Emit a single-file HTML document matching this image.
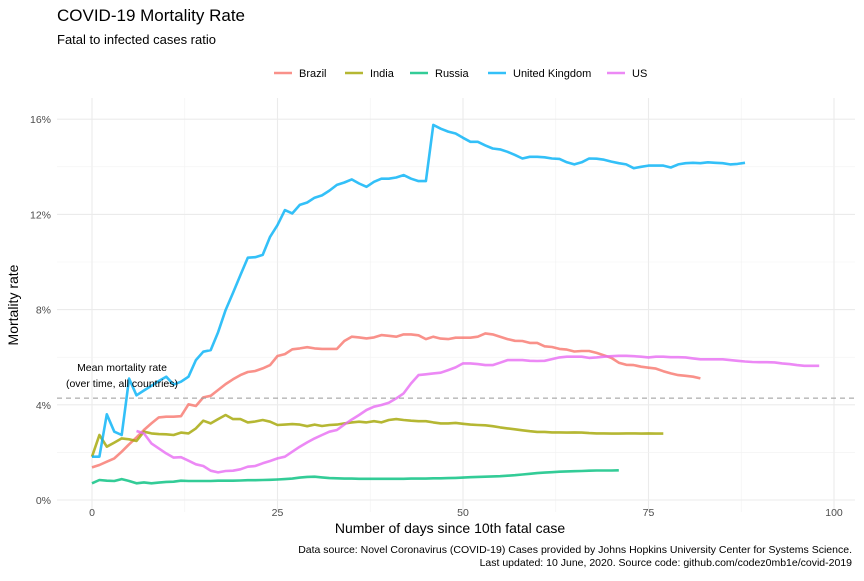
<!DOCTYPE html>
<html><head><meta charset="utf-8"><style>
body{margin:0;background:#fff;font-family:"Liberation Sans",sans-serif}
svg text{font-family:"Liberation Sans",sans-serif}
</style></head><body>
<svg id="c" width="864" height="576" xmlns="http://www.w3.org/2000/svg">
<text x="57" y="21" font-size="17" fill="#000">COVID-19 Mortality Rate</text>
<text x="57" y="44" font-size="13" fill="#000">Fatal to infected cases ratio</text>
<g id="grid"></g>
<g id="lines"></g>
<g id="legend"></g>
<text x="450" y="533" font-size="14" text-anchor="middle">Number of days since 10th fatal case</text>
<text transform="translate(18,305) rotate(-90)" font-size="14" text-anchor="middle">Mortality rate</text>
<text x="852" y="553" font-size="10.5" text-anchor="end">Data source: Novel Coronavirus (COVID-19) Cases provided by Johns Hopkins University Center for Systems Science.</text>
<text x="852" y="566" font-size="10.5" text-anchor="end">Last updated: 10 June, 2020. Source code: github.com/codez0mb1e/covid-2019</text>
</svg>
<script>
const xTicks=[0,25,50,75,100];
const yTicks=[0,4,8,12,16];
const meanRate=4.28;
const countries=["Brazil","India","Russia","United Kingdom","US"];
const colors=["#F8766D","#A3A500","#00BF7D","#00B0F6","#E76BF3"];
const startBrazil=0,startIndia=0,startRussia=0,startUK=0,startUS=6;
const brazil=[1.37,1.47,1.61,1.75,2.03,2.34,2.63,2.94,3.22,3.47,3.5,3.5,3.52,4.02,3.95,4.31,4.38,4.62,4.87,5.07,5.25,5.38,5.42,5.53,5.67,6.05,6.13,6.33,6.37,6.42,6.37,6.35,6.35,6.35,6.68,6.86,6.83,6.79,6.83,6.93,6.9,6.86,6.96,6.96,6.92,6.76,6.86,6.78,6.76,6.82,6.82,6.82,6.86,7.0,6.96,6.86,6.76,6.69,6.68,6.6,6.6,6.46,6.43,6.35,6.32,6.24,6.26,6.26,6.18,6.08,5.97,5.77,5.68,5.67,5.6,5.56,5.52,5.41,5.32,5.25,5.22,5.18,5.11];
const india=[1.82,2.73,2.24,2.41,2.59,2.55,2.48,2.87,2.8,2.77,2.76,2.73,2.83,2.8,3.01,3.33,3.22,3.4,3.57,3.4,3.4,3.26,3.3,3.36,3.29,3.15,3.17,3.19,3.17,3.1,3.17,3.11,3.15,3.17,3.22,3.26,3.29,3.26,3.31,3.26,3.36,3.4,3.36,3.33,3.31,3.31,3.26,3.22,3.22,3.24,3.2,3.17,3.15,3.14,3.1,3.05,3.01,2.97,2.93,2.89,2.86,2.86,2.84,2.84,2.83,2.84,2.83,2.81,2.8,2.8,2.79,2.79,2.8,2.8,2.79,2.8,2.79,2.79];
const russia=[0.7,0.84,0.81,0.8,0.88,0.8,0.7,0.74,0.7,0.73,0.76,0.77,0.81,0.8,0.8,0.8,0.8,0.81,0.81,0.81,0.82,0.83,0.83,0.84,0.85,0.86,0.88,0.9,0.94,0.97,0.98,0.95,0.92,0.91,0.9,0.9,0.89,0.89,0.89,0.89,0.89,0.89,0.89,0.9,0.9,0.9,0.91,0.91,0.92,0.93,0.94,0.96,0.97,0.98,0.99,1.0,1.02,1.04,1.07,1.1,1.13,1.15,1.17,1.19,1.2,1.21,1.22,1.23,1.24,1.24,1.24,1.25];
const uk=[1.82,1.82,3.6,2.87,2.73,5.1,4.4,4.6,4.8,5.0,5.18,4.85,4.97,5.18,5.88,6.23,6.3,7.05,7.98,8.7,9.45,10.18,10.2,10.3,11.06,11.55,12.18,12.04,12.4,12.5,12.7,12.8,13.0,13.24,13.34,13.47,13.3,13.16,13.37,13.5,13.5,13.55,13.65,13.5,13.4,13.4,15.76,15.6,15.48,15.4,15.22,15.05,15.05,14.9,14.77,14.73,14.63,14.5,14.35,14.42,14.42,14.4,14.35,14.33,14.19,14.1,14.19,14.35,14.34,14.3,14.22,14.15,14.1,13.94,14.0,14.05,14.05,14.05,13.97,14.1,14.15,14.17,14.15,14.19,14.17,14.15,14.1,14.12,14.17];
const us=[2.9,2.8,2.38,2.17,1.96,1.78,1.8,1.65,1.5,1.43,1.23,1.16,1.22,1.23,1.29,1.4,1.43,1.54,1.64,1.75,1.82,2.03,2.24,2.42,2.59,2.73,2.87,2.94,3.17,3.38,3.57,3.78,3.92,3.99,4.09,4.27,4.48,4.9,5.25,5.28,5.32,5.35,5.46,5.57,5.74,5.74,5.71,5.67,5.67,5.77,5.88,5.88,5.88,5.85,5.84,5.85,5.92,5.99,6.02,6.02,6.02,5.97,5.99,6.02,6.04,6.06,6.06,6.04,6.02,5.99,6.02,6.02,6.0,6.0,5.99,5.95,5.91,5.91,5.91,5.91,5.88,5.85,5.82,5.8,5.79,5.79,5.78,5.74,5.71,5.67,5.64,5.64,5.64];

const NS="http://www.w3.org/2000/svg";
const X=d=>92+d*7.42, Y=p=>500-p*23.8;
const L=57,R=855,T=98,B=512;
function mk(tag,attrs,parent){const e=document.createElementNS(NS,tag);for(const k in attrs)e.setAttribute(k,attrs[k]);parent.appendChild(e);return e;}
const grid=document.getElementById('grid');
xTicks.forEach((t,i)=>{
  if(i<xTicks.length-1){const m=mk('line',{x1:X(t+12.5),x2:X(t+12.5),y1:T,y2:B,stroke:'#f2f2f2','stroke-width':0.6},grid);}
  const g=mk('line',{x1:X(t),x2:X(t),y1:T,y2:B,stroke:'#ebebeb','stroke-width':1.1},grid);
  
  const tx=mk('text',{x:X(t),y:516,'font-size':10.5,fill:'#4d4d4d','text-anchor':'middle'},grid);tx.textContent=t;
  
});
yTicks.forEach((t,i)=>{
  if(i<yTicks.length-1){const m=mk('line',{x1:L,x2:R,y1:Y(t+2),y2:Y(t+2),stroke:'#f2f2f2','stroke-width':0.6},grid);}
  const g=mk('line',{x1:L,x2:R,y1:Y(t),y2:Y(t),stroke:'#ebebeb','stroke-width':1.1},grid);
  
  const tx=mk('text',{x:51,y:Y(t)+4,'font-size':10.5,fill:'#4d4d4d','text-anchor':'end'},grid);tx.textContent=t+'%';
  
});
const lines=document.getElementById('lines');
const series=[[brazil,startBrazil],[india,startIndia],[russia,startRussia],[uk,startUK],[us,startUS]];
series.forEach((s,i)=>{
  const pts=s[0].map((v,j)=>X(s[1]+j).toFixed(1)+','+Y(v).toFixed(1)).join(' ');
  const p=mk('polyline',{points:pts,fill:'none',stroke:colors[i],'stroke-width':2.6,'stroke-opacity':0.8,'stroke-linejoin':'round'},lines);
  
  
});
const ml=mk('line',{x1:L,x2:R,y1:Y(meanRate),y2:Y(meanRate),stroke:'#999','stroke-width':1,'stroke-dasharray':'5,4'},lines);


const a1=mk('text',{x:122,y:371,'font-size':10.5,'text-anchor':'middle'},lines);a1.textContent='Mean mortality rate';


const a2=mk('text',{x:122,y:387,'font-size':10.5,'text-anchor':'middle'},lines);a2.textContent='(over time, all countries)';


const leg=document.getElementById('legend');
const lx=[274,345,410,488,607];
countries.forEach((c,i)=>{
  const g=mk('g',{},leg);
  
  
  mk('line',{x1:lx[i],x2:lx[i]+18,y1:73,y2:73,stroke:colors[i],'stroke-width':2.6,'stroke-opacity':0.8},g);
  const t=mk('text',{x:lx[i]+25,y:77,'font-size':11},g);t.textContent=c;
});
</script>
</body></html>
